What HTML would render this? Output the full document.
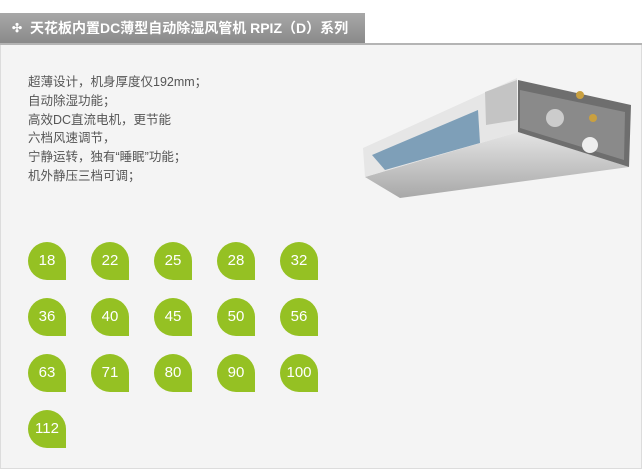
<!DOCTYPE html>
<html><head><meta charset="utf-8"><style>
*{margin:0;padding:0;box-sizing:border-box}
body{width:642px;height:469px;background:#fff;position:relative;overflow:hidden;font-family:"Liberation Sans","Noto Sans CJK SC",sans-serif}
.hdr{position:absolute;left:0;top:13px;width:365px;height:30px;background:linear-gradient(#a8a8a8,#8a8a8a);color:#fff;font-weight:bold;font-size:14px;line-height:30px;padding-left:30px;white-space:nowrap}
.hdr .ic{position:absolute;left:12px;top:0;font-size:12px}
.line{position:absolute;left:0;top:43px;width:642px;height:2px;background:#b4b4b4}
.panel{position:absolute;left:0;top:45px;width:642px;height:424px;background:#f4f4f4;border:1px solid #dcdcdc;border-top:none}
.txt{position:absolute;left:28px;top:73px;font-size:12.5px;line-height:18.8px;color:#555}
.b{position:absolute;width:38px;height:38px;background:#95c123;border-radius:19px 19px 0 19px;color:#fff;font-size:15px;text-align:center;line-height:38px}
</style></head><body>
<div class="hdr"><span class="ic">✣</span>天花板内置DC薄型自动除湿风管机 RPIZ（D）系列</div>
<div class="line"></div>
<div class="panel"></div>
<div class="txt">超薄设计，机身厚度仅192mm；<br>自动除湿功能；<br>高效DC直流电机，更节能<br>六档风速调节，<br>宁静运转，独有“睡眠”功能；<br>机外静压三档可调；</div>
<svg style="position:absolute;left:0;top:0" width="642" height="469">
<defs><linearGradient id="g" x1="0" y1="0" x2="0" y2="1"><stop offset="0" stop-color="#e4e4e4"/><stop offset="1" stop-color="#a8a8a8"/></linearGradient></defs>
<polygon points="365,177 518,132 629,167 400,198" fill="url(#g)"/>
<polygon points="363,148 517,78 518,132 365,177" fill="#e6e6e6"/>
<polygon points="372,155 478,110 480,143 385,170" fill="#7e9fb8"/>
<polygon points="485,92 517,80 517,120 486,125" fill="#c4c4c4"/>
<polygon points="518,80 631,105 629,167 518,132" fill="#6e6e6e"/>
<polygon points="520,90 625,112 624,160 520,128" fill="#8a8a8a"/>
<circle cx="590" cy="145" r="8" fill="#eee"/>
<circle cx="555" cy="118" r="9" fill="#ccc"/>
<circle cx="580" cy="95" r="4" fill="#c9a040"/>
<circle cx="593" cy="118" r="4" fill="#c9a040"/>
</svg>
<div class="b" style="left:28px;top:242px">18</div>
<div class="b" style="left:91px;top:242px">22</div>
<div class="b" style="left:154px;top:242px">25</div>
<div class="b" style="left:217px;top:242px">28</div>
<div class="b" style="left:280px;top:242px">32</div>
<div class="b" style="left:28px;top:298px">36</div>
<div class="b" style="left:91px;top:298px">40</div>
<div class="b" style="left:154px;top:298px">45</div>
<div class="b" style="left:217px;top:298px">50</div>
<div class="b" style="left:280px;top:298px">56</div>
<div class="b" style="left:28px;top:354px">63</div>
<div class="b" style="left:91px;top:354px">71</div>
<div class="b" style="left:154px;top:354px">80</div>
<div class="b" style="left:217px;top:354px">90</div>
<div class="b" style="left:280px;top:354px">100</div>
<div class="b" style="left:28px;top:410px">112</div>
</body></html>
